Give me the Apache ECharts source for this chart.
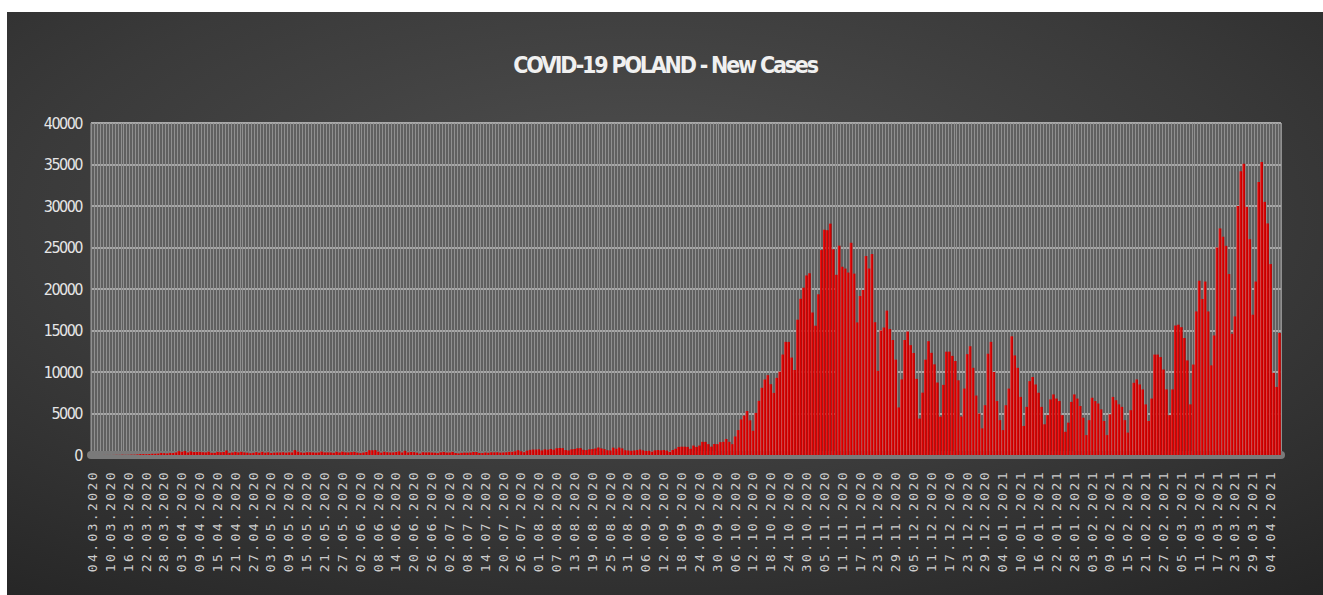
<!DOCTYPE html>
<html>
<head>
<meta charset="utf-8">
<script src="https://cdn.jsdelivr.net/npm/echarts@6/dist/echarts.min.js"></script>
<style>
html,body{margin:0;padding:0;background:#ffffff;width:1323px;height:595px;overflow:hidden;}
#chart{position:absolute;left:7px;top:12px;width:1316px;height:583px;}
#chart text[style*="Mono"]{letter-spacing:2.4px;}
#chart text[style*="Condensed"]{letter-spacing:-2.2px;}
#chart text[style*="Narrow"]{letter-spacing:-1.5px;}
</style>
</head>
<body>
<div id="chart"></div>
<script>
// Daily new cases, Poland, 04.03.2020 - 07.04.2021
const startDate = '2020-03-04';
const mar2020 = [1,0,4,1,5,6,5,9,20,17,36,22,27,48,47,70,111,111,98,115,152,150,170,249,224,193,256,243];
const apr2020 = [311,463,392,475,311,435,357,370,380,336,318,401,268,260,380,336,363,545,263,306,380,313,381,316,285,220,263,344,270,381];
const may2020 = [281,330,239,285,306,307,333,284,318,308,595,400,312,271,331,336,314,286,306,415,315,320,309,266,395,306,398,322,309,350,380];
const jun2020 = [292,230,293,361,576,575,599,401,282,395,337,309,314,366,440,302,506,311,359,350,291,174,333,311,319,300,277,225,324,371];
const jul2020 = [300,300,371,243,193,262,290,280,299,360,358,247,235,299,266,328,319,334,286,305,330,380,380,443,584,448,337,512,615,657,658];
const aug2020 = [680,548,680,640,726,640,809,843,831,599,548,680,726,811,832,632,587,681,712,779,903,797,715,579,549,887,747,900,796,581,546];
const sep2020 = [502,547,597,658,564,487,507,398,555,600,558,601,536,377,600,757,974,1002,1002,979,746,1136,975,1136,1587,1584,1306,1010,1326,1306];
const oct2020 = [1552,1587,1934,1584,1306,2236,3003,4280,4739,5300,4178,2914,5068,6526,8099,9105,9622,8536,7482,9291,10040,12107,13632,13628,11742,10241,16300,18820,20156,21629,21897];
const nov2020 = [17171,15578,19364,24692,27143,27086,27875,24785,21713,25221,22683,22464,21982,25571,21854,15975,19152,19883,23975,22464,24213,16000,10139,15002,15362,17395,15178,13855,11483,5733];
const dec2020 = [9105,13855,14880,13236,12293,9176,4385,7510,11482,13713,12311,10925,8733,4622,8452,12451,12456,11944,11323,9004,4634,8006,12149,13105,10510,7164,5000,3211,6003,12203,13632];
const jan2021 = [10000,6500,4200,3000,6000,8000,14300,12000,10500,7000,3500,5800,8900,9400,8500,7500,5800,3700,4800,6700,7300,6800,6500,4800,2800,3900,6400,7300,6800,5900,4500];
const feb2021 = [2400,4200,6900,6500,6200,5500,4100,2400,4900,7000,6600,6100,5800,4200,2700,5400,8700,9100,8500,7900,6100,4100,6800,12100,12100,11800,10300,7900];
const mar2021 = [4800,7900,15600,15700,15400,14100,11400,6100,10900,17300,21000,18800,20900,17300,10800,14400,25000,27300,26300,25200,21800,14600,16700,30000,34200,35100,29900,26000,16900,20900,32900];
const apr2021 = [35300,30500,27900,23000,9900,8200,14700];

const yTicks = [0,5000,10000,15000,20000,25000,30000,35000,40000];

const values = [].concat(mar2020,apr2020,may2020,jun2020,jul2020,aug2020,sep2020,oct2020,nov2020,dec2020,jan2021,feb2021,mar2021,apr2021);

function pad(n){return (n<10?'0':'')+n;}
const categories = [];
(function(){
  const d0 = new Date(startDate+'T00:00:00Z');
  for(let i=0;i<values.length;i++){
    const d = new Date(d0.getTime()+i*86400000);
    categories.push(pad(d.getUTCDate())+'.'+pad(d.getUTCMonth()+1)+'.'+d.getUTCFullYear());
  }
})();

const chart = echarts.init(document.getElementById('chart'), null, {renderer:'svg'});
chart.setOption({
  animation:false,
  backgroundColor:{type:'radial',x:0.48,y:0.35,r:0.85,colorStops:[{offset:0,color:'#505050'},{offset:0.55,color:'#3a3a3a'},{offset:1,color:'#242424'}]},
  title:{text:'COVID-19 POLAND - New Cases',left:'center',top:36,
    textStyle:{color:'#f0f0f0',fontSize:23,fontWeight:'bold',fontFamily:"'DejaVu Sans Condensed',sans-serif"}},
  grid:{left:84,right:42,top:111,bottom:140,show:true,backgroundColor:'#606060',borderColor:'#9a9a9a',borderWidth:1},
  xAxis:{type:'category',data:categories,boundaryGap:true,offset:4,
    axisLine:{show:true,lineStyle:{color:'#7a7a7a',width:8}},
    axisTick:{show:false},
    splitLine:{show:true,interval:0,lineStyle:{color:'#909090',width:1}},
    axisLabel:{interval:5,rotate:90,margin:11,color:'#cccccc',fontSize:13,fontFamily:"'DejaVu Sans Mono',monospace"}},
  yAxis:{type:'value',min:0,max:40000,interval:5000,
    axisLine:{show:false},axisTick:{show:false},
    splitLine:{show:true,lineStyle:{color:'#a8a8a8',width:2}},
    axisLabel:{margin:9,color:'#e6e6e6',fontSize:16,fontFamily:"'DejaVu Sans Condensed','Liberation Sans Narrow',sans-serif",
      formatter:function(v){return yTicks.indexOf(v)>=0?String(v):'';}}},
  series:[{type:'bar',data:values,barCategoryGap:'10%',
    itemStyle:{color:{type:'linear',x:0,y:0,x2:1,y2:0,colorStops:[{offset:0,color:'#f22a2a'},{offset:0.5,color:'#d80000'},{offset:1,color:'#b00000'}]}}}]
});
</script>
</body>
</html>
